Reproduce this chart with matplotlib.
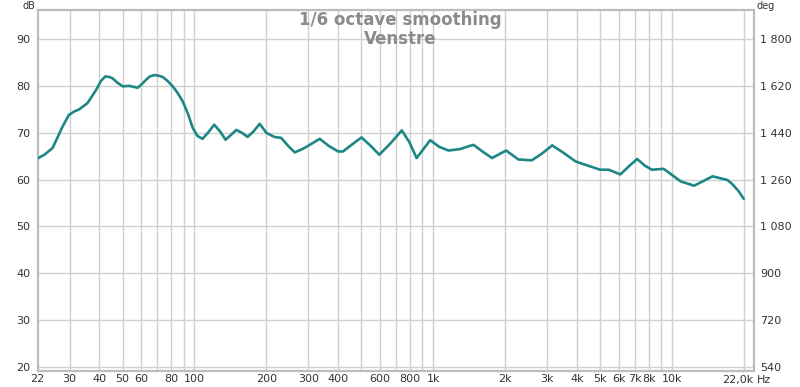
import matplotlib
matplotlib.use("Agg")
import matplotlib.pyplot as plt
from matplotlib.ticker import FixedLocator, NullLocator

# ---- data ----
freq_hz = [22, 23.5, 25.4, 26.7, 28.0, 29.8, 31.3, 32.9, 35.6, 37.0, 38.7, 40.5, 42.3,
           44.0, 45.4, 47.5, 50, 53.3, 57.8, 60.0, 62.7, 65.0, 67.9, 70.5, 73.6, 77.0,
           81.1, 85.0, 89.3, 94.0, 98.4, 103, 108, 114, 121, 128, 135, 142, 149.7,
           158, 167, 177, 187.6, 200, 216, 231, 247, 263, 283, 304, 335, 365, 400,
           419, 455, 501, 545, 595, 665, 739, 795, 853, 972, 1060, 1159, 1295, 1425,
           1478, 1610, 1765, 2023, 2276, 2588, 2850, 3153, 3500, 3946, 4200, 5017,
           5443, 6090, 6600, 7157, 7700, 8253, 9245, 10910, 12410, 14830, 17130,
           17960, 19000, 20020]
spl_db = [64.5, 65.3, 66.7, 69.0, 71.3, 73.8, 74.5, 75.0, 76.3, 77.6, 79.1, 81.0, 82.0,
          81.9, 81.6, 80.7, 79.9, 80.0, 79.6, 80.3, 81.3, 82.0, 82.3, 82.2, 81.9, 81.1,
          79.9, 78.5, 76.7, 74.0, 71.0, 69.3, 68.7, 70.0, 71.7, 70.3, 68.5, 69.5, 70.6,
          70.0, 69.1, 70.3, 71.9, 70.0, 69.1, 68.9, 67.2, 65.8, 66.5, 67.4, 68.7, 67.2, 66.0,
          66.0, 67.4, 69.0, 67.3, 65.3, 67.8, 70.5, 68.0, 64.6, 68.4, 67.0, 66.2, 66.5, 67.2,
          67.4, 66.0, 64.6, 66.2, 64.3, 64.1, 65.5, 67.3, 65.8, 63.9, 63.4, 62.1,
          62.1, 61.1, 62.8, 64.4, 63.0, 62.1, 62.3, 59.6, 58.7, 60.7, 59.9,
          59.0, 57.6, 55.9]

x_grid = [30, 40, 50, 60, 70, 80, 90, 100, 200, 300, 400, 500, 600, 700, 800, 900,
          1000, 2000, 3000, 4000, 5000, 6000, 7000, 8000, 9000, 10000, 20000]
x_tick_vals = [22, 30, 40, 50, 60, 80, 100, 200, 300, 400, 600, 800, 1000, 2000,
               3000, 4000, 5000, 6000, 7000, 8000, 10000]
x_tick_labels = ["22", "30", "40", "50", "60", "80", "100", "200", "300", "400",
                 "600", "800", "1k", "2k", "3k", "4k", "5k", "6k", "7k", "8k", "10k"]
y_ticks = [20, 30, 40, 50, 60, 70, 80, 90]
deg_ticks = [540, 720, 900, 1080, 1260, 1440, 1620, 1800]
deg_labels = ["540", "720", "900", "1 080", "1 260", "1 440", "1 620", "1 800"]

title1 = "1/6 octave smoothing"
title2 = "Venstre"

# ---- figure ----
fig = plt.figure(figsize=(8, 3.87), dpi=100)
ax = fig.add_axes([37.5 / 800, 1 - 371 / 387, 716 / 800, 361 / 387])

grid_c = "#d0d0d0"
for xv in x_grid:
    ax.axvline(xv, color=grid_c, lw=1.0, zorder=1)
for yv in y_ticks:
    ax.axhline(yv, color=grid_c, lw=1.0, zorder=1)

ax.plot(freq_hz, spl_db, color="#1f8686", lw=1.9, zorder=3, solid_capstyle="round",
        solid_joinstyle="round")

ax.set_xscale("log")
ax.set_xlim(22, 22000)
ymin, ymax = 19.15, 96.19
ax.set_ylim(ymin, ymax)

ax.xaxis.set_major_locator(FixedLocator(x_tick_vals))
ax.xaxis.set_minor_locator(NullLocator())
ax.set_xticklabels(x_tick_labels)
ax.set_yticks(y_ticks)
ax.tick_params(axis="both", length=0, labelsize=8, colors="#333333")
ax.tick_params(axis="x", pad=2.5)
ax.tick_params(axis="y", pad=5)

for s in ax.spines.values():
    s.set_color("#bdbdbd")
    s.set_linewidth(1.6)

ax2 = ax.twinx()
ax2.set_ylim(540 + (ymin - 20) * 18, 540 + (ymax - 20) * 18)
ax2.set_yticks(deg_ticks)
ax2.set_yticklabels(deg_labels)
ax2.tick_params(axis="y", length=0, labelsize=8, colors="#333333", pad=5)
for s in ax2.spines.values():
    s.set_visible(False)

# 22,0k label and units
fig.text(753 / 800, 1 - 380 / 387, "22,0k", ha="right", va="center", fontsize=8, color="#333333")
fig.text(757 / 800, 1 - 380 / 387, "Hz", ha="left", va="center", fontsize=8, color="#333333")
fig.text(29 / 800, 1 - 6 / 387, "dB", ha="center", va="center", fontsize=7, color="#333333")
fig.text(766 / 800, 1 - 6 / 387, "deg", ha="center", va="center", fontsize=7, color="#333333")

fig.text(400 / 800, 1 - 20 / 387, title1, ha="center", va="center", fontsize=12,
         fontweight="bold", color="#8a8a8a")
fig.text(400 / 800, 1 - 39 / 387, title2, ha="center", va="center", fontsize=12,
         fontweight="bold", color="#8a8a8a")

fig.savefig("out.png", dpi=100)
